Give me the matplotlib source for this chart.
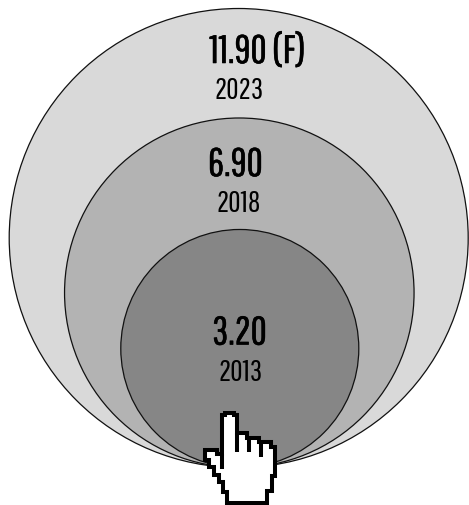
"""Nested circles, area scaled to value, tangent at the bottom."""

import matplotlib

matplotlib.use("Agg")

import matplotlib.patheffects as pe
import matplotlib.pyplot as plt
import numpy as np
from matplotlib import font_manager as fm
from matplotlib.patches import Circle, Polygon

years = ["2023", "2018", "2013"]
values = [11.90, 6.90, 3.20]
value_labels = ["11.90 (F)", "6.90", "3.20"]
colors = ["#d9d9d9", "#b3b3b3", "#868686"]

names = {f.name for f in fm.fontManager.ttflist}
family = next(n for n in ["Pathway Gothic One", "Oswald", "Roboto"] if n in names)

W, H = 469, 506
BASE_Y = 468.5
SCALE = 229.5 / np.sqrt(values[0])
CENTER_X = [238.7, 239.3, 239.8]
VALUE_X = [257.5, 235.5, 239.5]
VALUE_Y = [53, 166, 334.5]
YEAR_X = [239.5, 239, 241]
YEAR_Y = [90, 204, 372.5]

# hand cursor outline, traced in pixels of the reference
HAND = np.array([
    (165, 71), (192, 71), (192, 78), (201, 78), (201, 133), (232, 133), (232, 147),
    (268, 147), (268, 159), (302, 159), (302, 173), (314, 173), (314, 262), (305, 262),
    (305, 305), (290, 305), (290, 341), (172, 341), (172, 310), (158, 310), (158, 280),
    (146, 280), (146, 258), (132, 258), (132, 235), (118, 235), (118, 212), (106, 212),
    (106, 184), (140, 184), (140, 195), (157, 195), (157, 78), (165, 78),
]) / 3 + (170, 390)
HAND_LINES = [
    ((157, 195), (157, 240)),
    ((201, 133), (201, 190)),
    ((236, 147), (236, 190)),
    ((272, 159), (272, 205)),
]

fig = plt.figure(figsize=(W / 100, H / 100), dpi=100)
ax = fig.add_axes([0, 0, 1, 1])
ax.set_xlim(0, W)
ax.set_ylim(H, 0)
ax.axis("off")

for i, value in enumerate(values):
    r = SCALE * np.sqrt(value)
    ax.add_patch(Circle((CENTER_X[i], BASE_Y - r), r, facecolor=colors[i], edgecolor="#111111", linewidth=0.9))
    t = ax.text(VALUE_X[i], VALUE_Y[i], value_labels[i], ha="center", va="center", fontsize=28.5, color="black", family=family)
    t.set_path_effects([pe.withStroke(linewidth=0.4, foreground="black")])
    ax.text(YEAR_X[i], YEAR_Y[i], years[i], ha="center", va="center", fontsize=22, color="black", family=family)

ax.add_patch(Polygon(HAND, closed=True, facecolor="white", edgecolor="black", linewidth=2.9, joinstyle="miter", zorder=5))
for a, b in HAND_LINES:
    p = np.array([a, b]) / 3 + (170, 390)
    ax.plot(p[:, 0], p[:, 1], color="black", linewidth=2.9, solid_capstyle="butt", zorder=6)

fig.savefig("out.png", dpi=100)
plt.close(fig)
